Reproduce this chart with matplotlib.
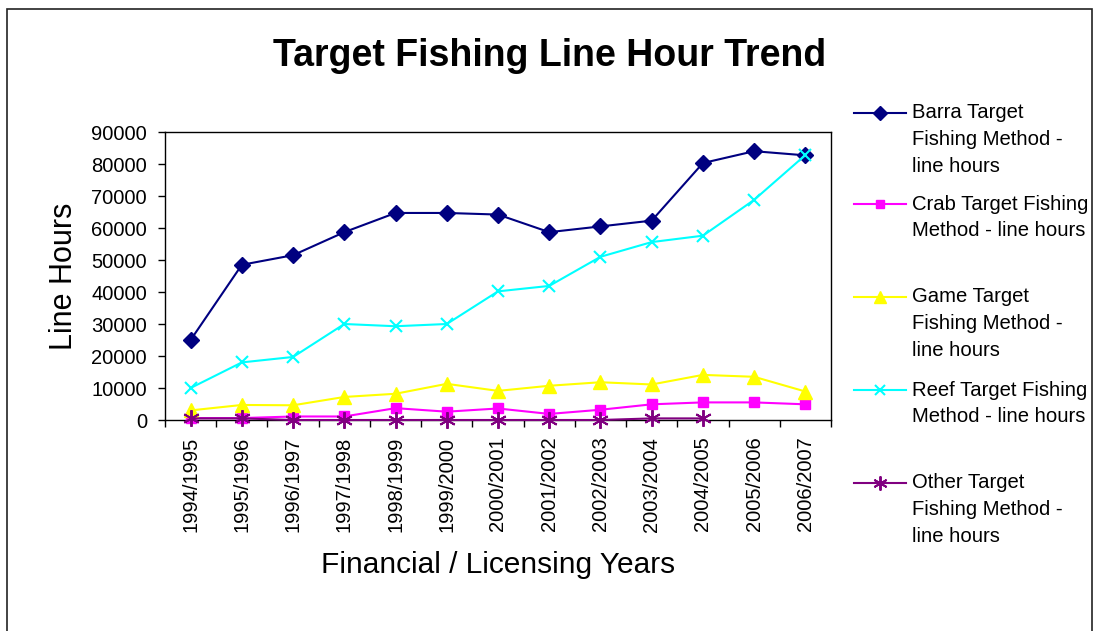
import numpy as np
import matplotlib
matplotlib.use('Agg')
import matplotlib.pyplot as plt
from matplotlib.lines import Line2D
from matplotlib.patches import Rectangle

plt.rcParams['font.family'] = ['Liberation Sans', 'DejaVu Sans']

# data
years = ['1994/1995', '1995/1996', '1996/1997', '1997/1998', '1998/1999',
         '1999/2000', '2000/2001', '2001/2002', '2002/2003', '2003/2004',
         '2004/2005', '2005/2006', '2006/2007']
barra = [25000, 48500, 51500, 58700, 64700, 64700, 64200, 58700, 60500, 62300, 80300, 84000, 82700]
crab = [600, 600, 1100, 1100, 3700, 2600, 3600, 1900, 3200, 4900, 5500, 5500, 4900]
game = [3000, 4700, 4600, 7200, 8200, 11300, 9100, 10700, 11800, 11100, 14100, 13500, 8900]
reef = [10000, 18000, 19700, 30000, 29300, 30000, 40200, 41900, 51000, 55600, 57600, 68800, 82800]
other = [500, 500, 0, 0, 0, 0, 0, 0, 0, 500, 500, np.nan, np.nan]

labels = ['Barra Target\nFishing Method -\nline hours',
          'Crab Target Fishing\nMethod - line hours',
          'Game Target\nFishing Method -\nline hours',
          'Reef Target Fishing\nMethod - line hours',
          'Other Target\nFishing Method -\nline hours']

styles = [
    dict(color='#000080', marker='D', ms=8, mew=1),
    dict(color='#FF00FF', marker='s', ms=7.5, mew=1),
    dict(color='#FFFF00', marker='^', ms=10, mew=1),
    dict(color='#00FFFF', marker='x', ms=9, mew=1.5),
    dict(color='#800080', marker=(6, 2, 0), ms=12, mew=1.4),
]

W, H = 1096, 631
fig = plt.figure(figsize=(W / 100, H / 100), dpi=100)
ax = fig.add_axes([165 / W, 1 - 420 / H, (831 - 165) / W, (420 - 132) / H])

x = np.arange(len(years))
for i, (vals, st) in enumerate(zip([barra, crab, game, reef, other], styles)):
    ax.plot(x, vals, color=st['color'], lw=1.5, marker=st['marker'], ms=st['ms'],
            mew=st['mew'], mec=st['color'], mfc=st['color'], zorder=3 + i, clip_on=False)

ax.set_xlim(-0.5, len(years) - 0.5)
ax.set_ylim(0, 90000)
ax.set_yticks(range(0, 90001, 10000))
ax.set_xticks(x)
ax.set_xticklabels(years, rotation=90)
ax.set_xticks(np.arange(-0.5, len(years), 1), minor=True)
ax.tick_params(axis='x', which='major', length=0, pad=12, labelsize=14.5)
ax.tick_params(axis='x', which='minor', length=5, width=1, direction='out')
ax.tick_params(axis='y', length=5, width=1, direction='out', pad=8, labelsize=14.5)
for sp in ax.spines.values():
    sp.set_linewidth(1)

ax.set_ylabel('Line Hours', fontsize=22, labelpad=9)
ax.set_xlabel('Financial / Licensing Years', fontsize=21.5, labelpad=14)
fig.text(550 / W, 1 - 56 / H, 'Target Fishing Line Hour Trend', fontsize=27,
         fontweight='bold', ha='center', va='center')

# legend drawn by hand so the handle sits on the first text line
entry_tops = [113, 204, 297, 390, 483]
line_gap = 26.5
for lab, st, ytop in zip(labels, styles, entry_tops):
    yf = 1 - ytop / H
    fig.add_artist(Line2D([854 / W, 906 / W], [yf, yf], color=st['color'], lw=1.5,
                          transform=fig.transFigure))
    fig.add_artist(Line2D([880 / W], [yf], color=st['color'], marker=st['marker'],
                          ms=st['ms'] * 0.85, mew=st['mew'], mec=st['color'], mfc=st['color'],
                          transform=fig.transFigure))
    for k, line in enumerate(lab.split('\n')):
        fig.text(912 / W, 1 - (ytop + k * line_gap) / H, line, fontsize=14.6,
                 ha='left', va='center')

fig.add_artist(Rectangle((7 / W, -0.02), (1092 - 7) / W, 1 - 9 / H + 0.02, fill=False,
                         edgecolor='#222222', lw=1.2, transform=fig.transFigure))

fig.savefig('out.png', dpi=100)
